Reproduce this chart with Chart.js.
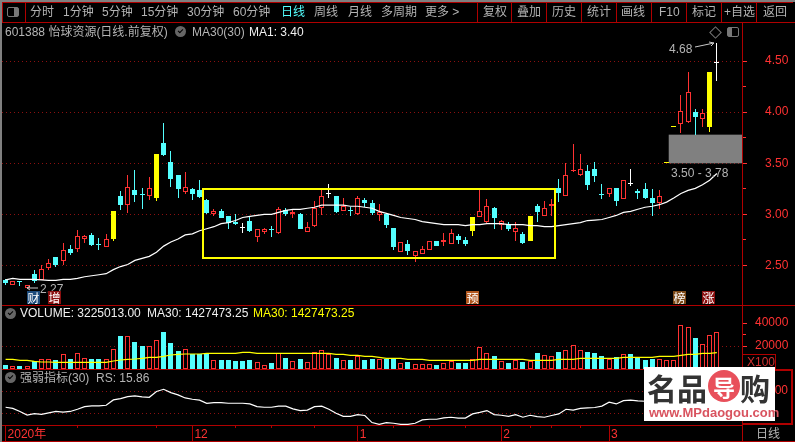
<!DOCTYPE html>
<html>
<head>
<meta charset="utf-8">
<title>601388</title>
<script src="https://cdn.jsdelivr.net/npm/chart.js@4"></script>
<style>
  html, body { margin: 0; padding: 0; background: #000; width: 795px; height: 442px; overflow: hidden; }
  canvas { position: absolute; left: 0; }
  .t { position: absolute; white-space: nowrap; line-height: 12px; font: 12px/12px "Liberation Sans", "Noto Sans CJK SC", sans-serif; color: #b4b4b4; z-index: 5; }
  .w { color: #f0f0f0; }
  .y { color: #ffff00; }
  .r { color: #ff3232; }
  .c { color: #54ffff; }
  .line { position: absolute; background: #b00000; z-index: 4; }
  .tag { position: absolute; width: 13px; height: 13px; font: 12px/13px "Noto Sans CJK SC", sans-serif; color: #fff; text-align: center; z-index: 6; top: 291px; }
  .dot { position: absolute; left: 5px; width: 11px; height: 11px; border-radius: 6px; background: #666; z-index: 5; }
  .dot:after { content: ""; position: absolute; left: 3px; top: 3px; width: 4px; height: 2px; border-left: 1px solid #000; border-bottom: 1px solid #000; transform: rotate(-45deg); }
  #mark { position: absolute; left: 644px; top: 367px; width: 131px; height: 54px; background: #fff; z-index: 7; }
  #mark span { position: absolute; white-space: nowrap; }
</style>
</head>
<body>
<div class="line" style="left:0;top:0;width:2px;height:442px;background:#808080"></div>
<div class="line" style="left:0;top:0;width:795px;height:2px;background:#808080"></div>
<div class="line" style="left:2px;top:2px;width:791px;height:1px"></div>
<div class="line" style="left:2px;top:22px;width:793px;height:1px"></div>
<div class="line" style="left:2px;top:2px;width:1px;height:20px"></div>
<div class="line" style="left:25px;top:2px;width:1px;height:20px"></div>
<div class="line" style="left:477px;top:2px;width:1px;height:20px"></div>
<div class="line" style="left:511px;top:2px;width:1px;height:20px"></div>
<div class="line" style="left:546px;top:2px;width:1px;height:20px"></div>
<div class="line" style="left:581px;top:2px;width:1px;height:20px"></div>
<div class="line" style="left:616px;top:2px;width:1px;height:20px"></div>
<div class="line" style="left:651px;top:2px;width:1px;height:20px"></div>
<div class="line" style="left:686px;top:2px;width:1px;height:20px"></div>
<div class="line" style="left:721px;top:2px;width:1px;height:20px"></div>
<div class="line" style="left:756px;top:2px;width:1px;height:20px"></div>
<div class="line" style="left:2px;top:305px;width:793px;height:1px"></div>
<div class="line" style="left:2px;top:369px;width:741px;height:1px"></div>
<div class="line" style="left:2px;top:425px;width:741px;height:1px"></div>
<div class="line" style="left:2px;top:441px;width:793px;height:1px"></div>
<div class="line" style="left:742px;top:23px;width:1px;height:418px"></div>
<div class="line" style="left:742px;top:369px;width:51px;height:2px"></div>
<div class="line" style="left:791px;top:369px;width:2px;height:56px"></div>
<div class="line" style="left:742px;top:423px;width:51px;height:2px"></div>
<div class="line" style="left:743px;top:354px;width:33px;height:1px"></div>
<div class="line" style="left:775px;top:354px;width:1px;height:15px"></div>

<div style="position:absolute;left:7px;top:7px;width:10px;height:8px;border:1px solid #777;border-radius:2px;z-index:5;background:linear-gradient(90deg,#000 60%,#777 60%)"></div>
<span class="t" style="left:30px;top:6px">分时</span>
<span class="t" style="left:63px;top:6px">1分钟</span>
<span class="t" style="left:102px;top:6px">5分钟</span>
<span class="t" style="left:141px;top:6px">15分钟</span>
<span class="t" style="left:187px;top:6px">30分钟</span>
<span class="t" style="left:233px;top:6px">60分钟</span>
<span class="t c" style="left:281px;top:6px">日线</span>
<span class="t" style="left:314px;top:6px">周线</span>
<span class="t" style="left:348px;top:6px">月线</span>
<span class="t" style="left:381px;top:6px">多周期</span>
<span class="t" style="left:425px;top:6px">更多 &gt;</span>
<span class="t" style="left:483px;top:6px">复权</span>
<span class="t" style="left:517px;top:6px">叠加</span>
<span class="t" style="left:552px;top:6px">历史</span>
<span class="t" style="left:587px;top:6px">统计</span>
<span class="t" style="left:621px;top:6px">画线</span>
<span class="t" style="left:659px;top:6px">F10</span>
<span class="t" style="left:692px;top:6px">标记</span>
<span class="t" style="left:724px;top:6px">+自选</span>
<span class="t" style="left:763px;top:6px">返回</span>

<span class="t" style="left:5px;top:26px">601388 怡球资源(日线.前复权)</span>
<div class="dot" style="left:175px;top:26px"></div>
<span class="t" style="left:192px;top:26px">MA30(30)</span>
<span class="t w" style="left:249px;top:26px">MA1: 3.40</span>

<div style="position:absolute;left:711px;top:28px;width:7px;height:7px;border:1px solid #777;transform:rotate(45deg);z-index:5"></div>
<div style="position:absolute;left:727px;top:27px;width:10px;height:8px;border:1px solid #777;border-radius:2px;z-index:5;background:linear-gradient(90deg,#777 40%,#000 40%)"></div>
<span class="t" style="left:669px;top:43px">4.68</span>
<svg style="position:absolute;left:0;top:0;z-index:5" width="795" height="442">
  <path d="M695 47 L714 43 M709 42 L714 43 L711 46" stroke="#c8c8c8" stroke-width="1" fill="none"/>
  <path d="M27 288 L38 288 M30 286 L27 288 L30 290" stroke="#c8c8c8" stroke-width="1" fill="none"/>
</svg>
<span class="t" style="left:671px;top:167px">3.50 - 3.78</span>
<span class="t" style="left:40px;top:283px">2.27</span>

<span class="tag" style="left:27px;background:#1c4b7c">财</span>
<span class="tag" style="left:48px;background:#8a0f0f">增</span>
<span class="tag" style="left:466px;background:#b0561e">预</span>
<span class="tag" style="left:673px;background:#7d4a18">榜</span>
<span class="tag" style="left:702px;background:#8a0f0f">涨</span>

<div class="dot" style="top:308px"></div>
<span class="t w" style="left:20px;top:307px">VOLUME: 3225013.00</span>
<span class="t w" style="left:147px;top:307px">MA30: 1427473.25</span>
<span class="t y" style="left:253px;top:307px">MA30: 1427473.25</span>
<span class="t" style="left:747px;top:356px;color:#d03030">X100</span>

<div class="dot" style="top:372px"></div>
<span class="t" style="left:20px;top:372px">强弱指标(30)</span>
<span class="t" style="left:96px;top:372px">RS: 15.86</span>
<span class="t" style="left:756px;top:428px">日线</span>

<div id="mark">
  <span style="left:3px;top:3px;font:bold 30px/34px 'Noto Sans CJK SC';color:#333">名品</span>
  <span style="left:64px;top:3px;width:32px;height:32px;border-radius:16px;background:#e8505b;color:#fff;font:bold 22px/32px 'Noto Sans CJK SC';text-align:center">导</span>
  <span style="left:96px;top:3px;font:bold 30px/34px 'Noto Sans CJK SC';color:#333">购</span>
  <span style="left:5px;top:39px;font:bold 13px/14px 'Liberation Sans';color:#d9535f">www.MPdaogou.com</span>
</div>

<canvas id="priceChart" width="795" height="282" style="top:23px"></canvas>
<canvas id="volumeChart" width="795" height="63" style="top:306px"></canvas>
<canvas id="rsChart" width="795" height="71" style="top:370px"></canvas>

<script>
// K线数据 (前复权)
const opens = [2.36,2.31,2.35,2.28,2.42,2.36,2.48,2.58,2.54,2.66,2.66,2.76,2.80,2.71,2.68,2.76,3.18,3.09,3.24,3.20,
  3.18,3.16,3.70,3.51,3.39,3.22,3.25,3.24,3.14,3.00,3.03,2.98,2.93,2.87,2.94,2.78,2.83,2.86,2.82,3.04,
  3.00,3.00,2.83,2.89,3.06,3.20,3.18,3.03,3.04,3.00,3.14,3.11,2.99,3.00,2.87,2.63,2.71,2.59,2.61,2.65,
  2.74,2.73,2.71,2.79,2.75,2.84,2.97,2.93,3.06,2.90,2.90,2.83,2.81,2.74,3.08,2.98,3.08,3.26,3.18,3.42,
  3.39,3.42,3.44,3.20,3.20,3.26,3.15,3.30,3.23,3.25,3.16,3.11,3.50,3.85,3.88,3.90,4.00,3.93,3.85,4.48];
const closes = [2.33,2.35,2.34,2.31,2.35,2.47,2.52,2.51,2.65,2.62,2.79,2.79,2.70,2.70,2.76,3.03,3.09,3.27,3.19,3.19,
  3.26,3.59,3.58,3.35,3.25,3.27,3.20,3.17,3.01,3.03,2.96,2.92,2.91,2.87,2.84,2.86,2.86,2.85,3.05,3.00,
  3.02,2.86,2.88,3.06,3.18,3.20,3.02,3.08,3.03,3.16,3.11,3.01,3.02,2.90,2.68,2.73,2.64,2.64,2.66,2.74,
  2.69,2.75,2.82,2.75,2.71,2.97,3.03,3.08,2.96,2.94,2.86,2.87,2.72,2.98,3.02,3.06,3.10,3.21,3.39,3.43,
  3.44,3.29,3.38,3.19,3.26,3.13,3.34,3.30,3.21,3.16,3.11,3.18,3.50,3.85,4.01,4.20,3.95,3.99,4.39,4.48];
const highs = [2.37,2.35,2.35,2.31,2.46,2.51,2.56,2.58,2.72,2.70,2.85,2.80,2.82,2.77,2.81,3.03,3.23,3.39,3.43,3.26,
  3.37,3.59,3.89,3.62,3.39,3.41,3.26,3.34,3.15,3.05,3.05,2.98,3.00,2.92,2.98,2.86,2.87,2.89,3.07,3.06,
  3.04,3.01,2.93,3.13,3.25,3.30,3.18,3.16,3.07,3.18,3.16,3.14,3.10,3.00,2.87,2.73,2.75,2.64,2.69,2.74,
  2.74,2.82,2.86,2.81,2.78,2.97,3.24,3.15,3.07,2.95,2.93,2.93,2.83,2.98,3.10,3.13,3.15,3.35,3.50,3.69,
  3.59,3.48,3.51,3.30,3.26,3.26,3.34,3.44,3.25,3.31,3.25,3.24,3.50,3.85,4.17,4.39,4.03,4.03,4.39,4.68];
const lows = [2.31,2.31,2.30,2.27,2.33,2.36,2.46,2.49,2.51,2.60,2.63,2.72,2.69,2.65,2.68,2.74,3.04,3.01,3.12,3.05,
  3.14,3.13,3.57,3.27,3.16,3.20,3.14,3.16,3.00,2.98,2.96,2.86,2.90,2.82,2.83,2.73,2.81,2.78,2.81,2.98,
  2.96,2.86,2.83,2.88,2.99,3.16,3.01,3.03,2.98,2.99,3.07,2.99,2.94,2.87,2.65,2.63,2.60,2.53,2.61,2.65,
  2.69,2.69,2.71,2.71,2.69,2.79,2.97,2.92,2.86,2.85,2.84,2.74,2.71,2.74,2.93,2.98,2.98,3.12,3.18,3.41,
  3.38,3.24,3.32,3.15,3.17,3.08,3.15,3.28,3.15,3.15,2.98,3.05,3.50,3.85,3.80,3.89,3.78,3.85,3.81,4.30];
const ma30 = [2.36,2.375,2.365,2.365,2.365,2.36,2.355,2.355,2.365,2.365,2.375,2.39,2.40,2.41,2.42,2.46,2.49,2.51,2.55,2.57,
  2.59,2.63,2.69,2.73,2.76,2.80,2.81,2.84,2.86,2.88,2.91,2.92,2.94,2.97,2.98,2.99,3.00,3.00,3.02,3.04,
  3.05,3.05,3.06,3.07,3.09,3.09,3.09,3.09,3.08,3.08,3.07,3.06,3.03,3.01,2.99,2.97,2.96,2.95,2.93,2.92,
  2.91,2.90,2.90,2.90,2.89,2.90,2.90,2.91,2.91,2.91,2.90,2.90,2.90,2.89,2.89,2.88,2.88,2.89,2.90,2.91,
  2.92,2.94,2.945,2.95,2.97,2.99,3.02,3.03,3.05,3.07,3.08,3.095,3.12,3.16,3.205,3.235,3.255,3.29,3.335,3.40];
const volumes = [3480,2320,2600,2320,6670,9000,9000,7830,12760,8700,13630,9280,8700,8700,8410,17110,28710,28710,23490,20010,
  20010,25230,32190,22620,15660,17110,13050,13050,13630,7830,7830,7830,6960,7250,7830,5800,3190,4930,13630,9570,
  6960,8700,5800,14500,16240,13050,9570,7540,7830,11310,7830,8700,8700,8700,8700,4930,6090,4060,4060,4060,
  3480,4930,6670,5220,5220,8410,18850,13630,11310,6670,4930,7540,6090,6960,13920,11890,11020,14790,16530,20590,
  16240,14790,13920,11310,8700,10440,12760,13050,10150,7830,8700,8410,7830,7830,37990,36250,26970,21460,29290,32250];
const volumeMa = [8410,8410,7540,7540,6670,6090,6090,5800,5800,5800,5800,5800,5800,5800,5800,6960,7830,8410,8700,9280,
  10150,10150,11020,12180,12760,13050,13050,13050,13630,13630,13630,13630,13630,14500,14500,13630,13630,13630,13630,13630,
  13630,13630,13630,13630,13630,13630,12760,12760,11890,11890,11020,11020,10150,9280,9280,9280,8410,8410,8410,7540,
  7540,7540,7540,7540,7540,7540,8410,8410,8410,8410,8410,8410,8410,7540,7540,7540,7540,8410,8410,8410,
  9280,9280,9280,9280,9280,9280,10150,10150,10150,10150,10150,11020,11020,11020,11890,12760,12760,13630,13630,14274];
// 水印后面的部分看不到, 是估计的
const rsValues = [27,22,8,-8,-2,-5,2,8,5,8,18,30,33,33,36,60,66,75,78,74,
  72,98,108,93,83,69,63,59,45,48,48,45,45,45,42,30,27,27,32,32,
  20,12,14,30,32,18,0,-14,-14,-6,-10,-42,-50,-42,-45,-50,-50,-45,-30,-27,
  -27,-21,-18,-22,-22,-3,4,12,-6,-9,-14,-6,-18,-9,-15,-18,-10,-3,18,14,
  22,24,26,32,50,42,57,59,56,54,56,60,70,80,100,110,100,95,105,110];

const priceTicks = [2.5, 2.75, 3, 3.25, 3.5, 3.75, 4, 4.25, 4.5];
const volumeTicks = [20000, 30000, 40000];
const rsTicks = [0, 100];
const limitUpDays = [15, 21, 65, 73, 92, 93, 98];
const monthTicks = [0, 26, 49, 69, 84];
const monthLabels = ["2020年", "12", "1", "2", "3"];
const weekTicks = [10, 21, 32, 37, 43, 54, 59, 64, 73, 76, 80];
// 100根K线 + 右边留白3格
const days = Array.from({ length: 103 }, (_, i) => i);

// 缺口, 矩形框
const gapLow = 3.5;
const gapHigh = 3.78;
const gapFromDay = 92.3;
const boxLow = 2.57;
const boxHigh = 3.25;
const boxFromDay = 27.5;
const boxToDay = 76.5;

const RED = "#ff3232";
const CYAN = "#54ffff";
const YELLOW = "#ffff00";
const WHITE = "#ffffff";
const AXIS = "#b00000";
const DOTS = "#8c1010";

const candleColor = (i) => {
  if (limitUpDays.includes(i)) return YELLOW;
  if (opens[i] === closes[i]) return WHITE;
  return closes[i] > opens[i] ? RED : CYAN;
};
const bodyFill = (i) => (candleColor(i) === RED ? "#000" : candleColor(i));
// 成交量颜色: 平盘时和前一天收盘比
const volumeUp = (i) => {
  if (opens[i] === closes[i] && !limitUpDays.includes(i)) return closes[i] >= closes[i - 1];
  return closes[i] >= opens[i];
};

// 柱子对齐到整像素, 不然会发虚
const snapBars = {
  id: "snapBars",
  afterDatasetsUpdate(chart) {
    chart.data.datasets.forEach((ds, d) => {
      if (ds.type !== "bar") return;
      chart.getDatasetMeta(d).data.forEach((el) => {
        el.x = Math.floor(el.x) + 0.5;
        el.y = Math.round(el.y);
        el.base = Math.round(el.base);
      });
    });
  },
};

const gapAndBox = {
  id: "gapAndBox",
  beforeDatasetsDraw(chart) {
    const { ctx, chartArea, scales: { x, y } } = chart;
    const left = x.getPixelForValue(gapFromDay);
    ctx.save();
    ctx.fillStyle = "#808080";
    ctx.fillRect(left, y.getPixelForValue(gapHigh), chartArea.right - left, y.getPixelForValue(gapLow) - y.getPixelForValue(gapHigh));
    ctx.restore();
  },
  afterDatasetsDraw(chart) {
    const { ctx, scales: { x, y } } = chart;
    const left = Math.round(x.getPixelForValue(boxFromDay));
    const right = Math.round(x.getPixelForValue(boxToDay));
    const top = Math.round(y.getPixelForValue(boxHigh));
    const bottom = Math.round(y.getPixelForValue(boxLow));
    ctx.save();
    ctx.strokeStyle = YELLOW;
    ctx.lineWidth = 2;
    ctx.strokeRect(left, top, right - left, bottom - top);
    ctx.restore();
  },
};

const hiddenX = { display: false, grid: { display: false }, offset: true };

// 右边的价格轴, 次要刻度短一点
const rightAxis = (min, max, tickValues, minorValues, padding, digits) => ({
  position: "right",
  min,
  max,
  afterFit(scale) {
    scale.width = 53;
    // ticks.padding 也会算进上下留白, 这里去掉
    scale.paddingTop = 0;
    scale.paddingBottom = 0;
  },
  afterBuildTicks(scale) { scale.ticks = tickValues.map((value) => ({ value })); },
  border: { color: AXIS, dash: [1, 3] },
  grid: {
    tickLength: 5,
    tickColor: RED,
    tickBorderDash: (ctx) => (ctx.tick && minorValues.includes(ctx.tick.value) ? [3, 100] : [5, 0]),
    color: (ctx) => (ctx.tick && !minorValues.includes(ctx.tick.value) ? DOTS : "transparent"),
  },
  ticks: {
    color: RED,
    padding,
    font: { family: "Liberation Sans", size: 12 },
    callback: (value) => (minorValues.includes(value) ? "" : value.toFixed(digits)),
  },
});

const baseOptions = {
  responsive: false,
  animation: false,
  devicePixelRatio: 1,
  layout: { padding: { left: 2, right: 0, top: 0, bottom: 0 } },
  plugins: { legend: { display: false }, tooltip: { enabled: false } },
  elements: { point: { radius: 0 }, line: { tension: 0 } },
};

new Chart(document.getElementById("priceChart"), {
  type: "bar",
  data: {
    labels: days,
    datasets: [
      {
        type: "bar",
        label: "wick",
        data: highs.map((h, i) => [lows[i], h]),
        backgroundColor: highs.map((_, i) => candleColor(i)),
        barThickness: 1,
        inflateAmount: 0,
        grouped: false,
        order: 3,
      },
      {
        type: "bar",
        label: "body",
        data: opens.map((o, i) => [o, closes[i]]),
        backgroundColor: opens.map((_, i) => bodyFill(i)),
        borderColor: opens.map((_, i) => candleColor(i)),
        borderWidth: 1,
        borderSkipped: false,
        barThickness: 5,
        inflateAmount: 0,
        minBarLength: 1,
        grouped: false,
        order: 2,
      },
      {
        type: "line",
        label: "MA30",
        data: ma30,
        borderColor: WHITE,
        borderWidth: 1.2,
        order: 1,
      },
    ],
  },
  options: {
    ...baseOptions,
    scales: {
      x: hiddenX,
      y: rightAxis(2.114, 4.872, priceTicks, [2.75, 3.25, 3.75, 4.25], 18, 2),
    },
  },
  plugins: [snapBars, gapAndBox],
});

new Chart(document.getElementById("volumeChart"), {
  type: "bar",
  data: {
    labels: days,
    datasets: [
      {
        type: "bar",
        label: "VOLUME",
        data: volumes,
        backgroundColor: volumes.map((_, i) => (volumeUp(i) ? "#000" : CYAN)),
        borderColor: volumes.map((_, i) => (volumeUp(i) ? RED : CYAN)),
        borderWidth: 1,
        borderSkipped: false,
        barThickness: 5,
        inflateAmount: 0,
        order: 2,
      },
      {
        type: "line",
        label: "MA30",
        data: volumeMa,
        borderColor: YELLOW,
        borderWidth: 1.2,
        order: 1,
      },
    ],
  },
  options: {
    ...baseOptions,
    scales: {
      x: hiddenX,
      y: {
        ...rightAxis(0, 54810, volumeTicks, [30000], 8, 0),
        grid: {
          tickLength: 5,
          tickColor: RED,
          tickBorderDash: (ctx) => (ctx.tick && ctx.tick.value === 30000 ? [3, 100] : [5, 0]),
          color: (ctx) => (ctx.tick && ctx.tick.value === 20000 ? DOTS : "transparent"),
        },
      },
    },
  },
  plugins: [snapBars],
});

new Chart(document.getElementById("rsChart"), {
  type: "line",
  data: {
    labels: days,
    datasets: [{ label: "RS", data: rsValues, borderColor: WHITE, borderWidth: 1.2 }],
  },
  options: {
    ...baseOptions,
    scales: {
      x: {
        offset: true,
        afterFit(scale) { scale.height = 16; },
        afterBuildTicks(scale) {
          scale.ticks = [...monthTicks, ...weekTicks].sort((a, b) => a - b).map((value) => ({ value }));
        },
        border: { display: false },
        grid: {
          drawOnChartArea: false,
          tickLength: 16,
          tickColor: AXIS,
          tickBorderDash: (ctx) => (ctx.tick && weekTicks.includes(ctx.tick.value) ? [3, 100] : [16, 0]),
        },
        ticks: {
          color: RED,
          autoSkip: false,
          maxRotation: 0,
          align: "start",
          labelOffset: 2,
          padding: -14,
          font: { family: "'Liberation Sans', 'Noto Sans CJK SC'", size: 12 },
          callback: (value) => (monthTicks.includes(value) ? monthLabels[monthTicks.indexOf(value)] : ""),
        },
      },
      y: rightAxis(-53, 195, rsTicks, [], 21, 0),
    },
  },
});
</script>
</body>
</html>
